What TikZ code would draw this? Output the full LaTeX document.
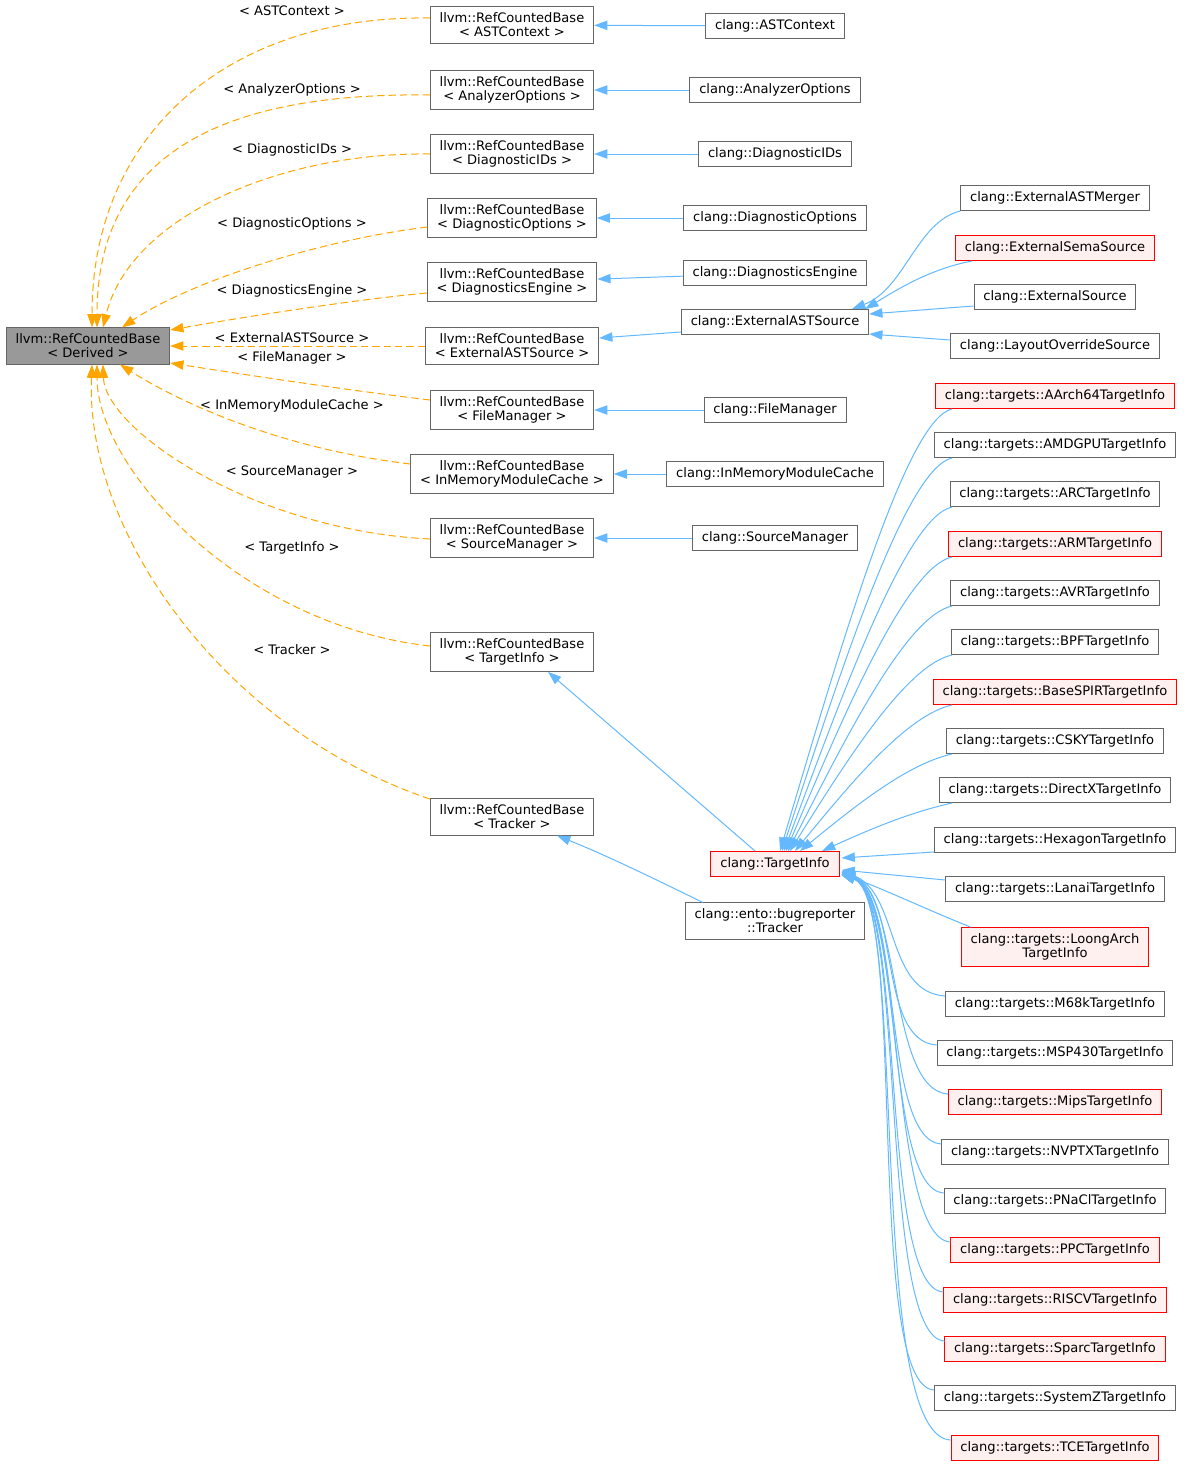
\documentclass[tikz,border=0pt]{standalone}
\usepackage{fontspec}
\setmainfont{DejaVu Sans}
\usetikzlibrary{arrows.meta,calc}

\definecolor{edgeblue}{HTML}{63B8FF}
\definecolor{nodegray}{HTML}{666666}
\definecolor{rootfill}{HTML}{999999}
\definecolor{redfill}{HTML}{FFF0F0}
\definecolor{tmplorange}{HTML}{FFA500}

\tikzset{
  cls/.style={draw=nodegray, fill=white, line width=0.75pt, inner xsep=7pt,
    inner ysep=4.5pt, minimum height=18.75pt, align=center,
    font=\fontsize{9.8}{10.5}\selectfont},
  clsred/.style={cls, draw=red, fill=redfill},
  clsroot/.style={cls, fill=rootfill},
  inh/.style={draw=edgeblue, line width=0.75pt, -{Triangle[length=10pt,width=7pt]}},
  tmpl/.style={draw=tmplorange, line width=0.75pt, dash pattern=on 5.5pt off 3pt,
    -{Triangle[length=10pt,width=7pt]}},
  lbl/.style={font=\fontsize{9.8}{10.5}\selectfont, inner sep=0pt},
}

\begin{document}
\begin{tikzpicture}[x=0.75pt, y=-0.75pt]
  \useasboundingbox (0,0) rectangle (1183,1467);

  % template and its instances
  \node[clsroot] (base) at (88,346) {llvm::RefCountedBase\\< Derived >};

  \foreach \n/\y/\t in {rcAST/25/ASTContext, rcAnalyzer/90/AnalyzerOptions,
      rcDiagIDs/154/DiagnosticIDs, rcDiagOpts/218/DiagnosticOptions,
      rcDiagEng/282/DiagnosticsEngine, rcExt/346/ExternalASTSource,
      rcFile/410/FileManager, rcInMem/474/InMemoryModuleCache,
      rcSource/538/SourceManager, rcTarget/652/TargetInfo, rcTracker/817/Tracker}
    \node[cls] (\n) at (512,\y) {llvm::RefCountedBase\\< \t{} >};

  % clang classes
  \node[cls] (astctx) at (775,26) {clang::ASTContext};
  \node[cls] (analyzer) at (775,90) {clang::AnalyzerOptions};
  \node[cls] (diagids) at (775,154) {clang::DiagnosticIDs};
  \node[cls] (diagopts) at (775,218) {clang::DiagnosticOptions};
  \node[cls] (diageng) at (775,273) {clang::DiagnosticsEngine};
  \node[cls] (extast) at (775,322) {clang::ExternalASTSource};
  \node[cls] (filemgr) at (775,410) {clang::FileManager};
  \node[cls] (inmem) at (775,474) {clang::InMemoryModuleCache};
  \node[cls] (srcmgr) at (775,538) {clang::SourceManager};
  \node[clsred] (ti) at (775,864) {clang::TargetInfo};
  \node[cls] (tracker) at (775,921) {clang::ento::bugreporter\\::Tracker};

  \node[cls] (merger) at (1055,198) {clang::ExternalASTMerger};
  \node[clsred] (sema) at (1055,248) {clang::ExternalSemaSource};
  \node[cls] (extsrc) at (1055,297) {clang::ExternalSource};
  \node[cls] (layout) at (1055,346) {clang::LayoutOverrideSource};

  \foreach \n/\y/\s/\t in {aarch/396/clsred/AArch64TargetInfo, amdgpu/445/cls/AMDGPUTargetInfo,
      arc/494/cls/ARCTargetInfo, arm/544/clsred/ARMTargetInfo, avr/593/cls/AVRTargetInfo,
      bpf/642/cls/BPFTargetInfo, spir/692/clsred/BaseSPIRTargetInfo,
      csky/741/cls/CSKYTargetInfo, directx/790/cls/DirectXTargetInfo,
      hexagon/840/cls/HexagonTargetInfo, lanai/889/cls/LanaiTargetInfo,
      loong/947/clsred/{LoongArch\\TargetInfo}, m68k/1004/cls/M68kTargetInfo,
      msp/1053/cls/MSP430TargetInfo, mips/1102/clsred/MipsTargetInfo,
      nvptx/1152/cls/NVPTXTargetInfo, pnacl/1201/cls/PNaClTargetInfo,
      ppc/1250/clsred/PPCTargetInfo, riscv/1300/clsred/RISCVTargetInfo,
      sparc/1349/clsred/SparcTargetInfo, systemz/1398/cls/SystemZTargetInfo,
      tce/1448/clsred/TCETargetInfo}
    \node[\s] (\n) at (1055,\y) {clang::targets::\t};

  % template arguments
  \node[lbl] (lAST) at (292,11) {< ASTContext >};
  \node[lbl] (lAnalyzer) at (292,90) {< AnalyzerOptions >};
  \node[lbl] (lDiagIDs) at (292,150) {< DiagnosticIDs >};
  \node[lbl] (lDiagOpts) at (292,224) {< DiagnosticOptions >};
  \node[lbl] (lDiagEng) at (292,291) {< DiagnosticsEngine >};
  \node[lbl] (lExt) at (292,338) {< ExternalASTSource >};
  \node[lbl] (lFile) at (292,358) {< FileManager >};
  \node[lbl] (lInMem) at (292,406) {< InMemoryModuleCache >};
  \node[lbl] (lSource) at (292,472) {< SourceManager >};
  \node[lbl] (lTarget) at (292,548) {< TargetInfo >};
  \node[lbl] (lTracker) at (292,650) {< Tracker >};

  % instantiation edges
  \draw[tmpl] ($(rcAST.west)+(0,-7)$) .. controls +(-199,-3) and +(0,-196) .. ($(base.north)+(4,0)$);
  \draw[tmpl] ($(rcAnalyzer.west)+(0,5)$) .. controls +(-219,-3) and +(0,-166) .. ($(base.north)+(9,0)$);
  \draw[tmpl] (rcDiagIDs.west) .. controls +(-149,-2) and +(27,-111) .. ($(base.north)+(15,0)$);
  \draw[tmpl] ($(rcDiagOpts.west)+(0,9)$) .. controls +(-107,13) and +(68,-46) .. ($(base.north)+(34,0)$);
  \draw[tmpl] ($(rcDiagEng.west)+(0,11)$) .. controls +(-76,7) and +(68,-12) .. ($(base.east)+(0,-16)$);
  \draw[tmpl] (rcExt.west) -- (base.east);
  \draw[tmpl] ($(rcFile.west)+(0,-10)$) .. controls +(-99,-12) and +(58,9) .. ($(base.east)+(0,17)$);
  \draw[tmpl] ($(rcInMem.west)+(0,-10)$) .. controls +(-159,-19) and +(30,19) .. ($(base.south)+(32,0)$);
  \draw[tmpl] ($(rcSource.west)+(0,1)$) .. controls +(-179,-9) and +(2,64) .. ($(base.south)+(15,0)$);
  \draw[tmpl] ($(rcTarget.west)+(0,-6)$) .. controls +(-189,-21) and +(0,104) .. ($(base.south)+(9,0)$);
  \draw[tmpl] ($(rcTracker.west)+(0,-18)$) .. controls +(-199,-67) and +(-7,174) .. ($(base.south)+(4,0)$);

  % inheritance edges
  \draw[inh] (astctx) -- (rcAST);
  \draw[inh] (analyzer) -- (rcAnalyzer);
  \draw[inh] (diagids) -- (rcDiagIDs);
  \draw[inh] (diagopts) -- (rcDiagOpts);
  \draw[inh] (diageng) -- (rcDiagEng);
  \draw[inh] ($(extast.west)+(0,10)$) -- ($(rcExt.east)+(0,-8)$);
  \draw[inh] (filemgr) -- (rcFile);
  \draw[inh] (inmem) -- (rcInMem);
  \draw[inh] (srcmgr) -- (rcSource);
  \draw[inh] ($(ti.north)+(-20,0)$) -- ($(rcTarget.south)+(36,0)$);
  \draw[inh] ($(tracker.north west)+(18,0)$) .. controls +(-45,-22) and +(50,20) .. ($(rcTracker.south)+(45,0)$);

  \draw[inh] (merger.south west) .. controls +(-44,11) and +(53,-20) .. ($(extast.north)+(77,0)$);
  \draw[inh] ($(sema.south west)+(17,0)$) .. controls +(-42,8) and +(33,-20) .. ($(extast.north east)+(-4,0)$);
  \draw[inh] ($(extsrc.west)+(0,9)$) -- ($(extast.east)+(0,-8)$);
  \draw[inh] ($(layout.west)+(0,-6)$) -- ($(extast.east)+(0,12)$);

  \coordinate (fanx) at (952,0);
  \foreach \n/\dx/\px/\py in {aarch/5/64/-216, amdgpu/7/62/-192, arc/9/62/-167,
      arm/11/60/-142, avr/13/60/-118, bpf/15/58/-93, spir/20/56/-68,
      csky/25/54/-44, directx/47/42/-19}
    \draw[inh] (\n.south -| fanx) .. controls +(-45,10) and +(\px,\py) .. ($(ti.north)+(\dx,0)$);

  \draw[inh] ($(hexagon.west)+(0,12)$) -- ($(ti.east)+(2,-6)$);
  \draw[inh] ($(lanai.west)+(0,-9)$) -- ($(ti.east)+(2,6)$);
  \draw[inh] ($(loong.north west)+(10,0)$) .. controls +(-45,-18) and +(40,14) .. ($(ti.east)+(2,10)$);

  \foreach \n/\dy/\qx/\px in {m68k/7/-60/58, msp/8/-60/59, mips/8/-60/60, nvptx/9/-60/61,
      pnacl/9/-60/62, ppc/10/-62/63, riscv/10/-64/64, sparc/11/-66/65,
      systemz/11/-70/66, tce/11/-85/67}
    \draw[inh] ($(\n.north west)+(0,5)$) .. controls +(\qx,-4) and +(\px,22) .. ($(ti.east)+(2,\dy)$);

\end{tikzpicture}
\end{document}
